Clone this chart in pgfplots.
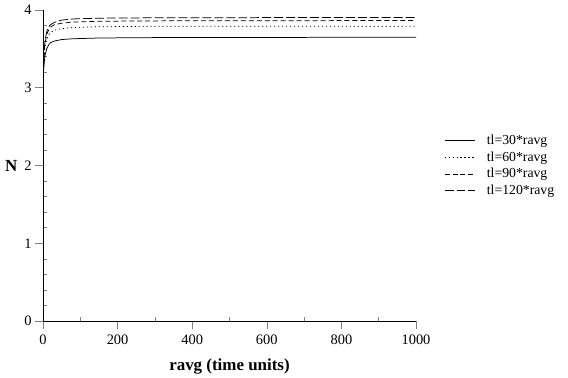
\documentclass[border=0pt]{standalone}
\usepackage{pgfplots}
\pgfplotsset{compat=1.18}
\usepackage{fontspec}
\setmainfont{Liberation Serif}
\begin{document}
\begin{tikzpicture}[x=1bp,y=1bp]
\begin{axis}[
  name=ax, at={(0,0)}, anchor=south west,
  scale only axis, width=373bp, height=311bp,
  xmin=0, xmax=1000, ymin=0, ymax=4,
  axis lines=left, axis line style={-, line width=0.6pt},
  xtick={0,200,...,1000}, ytick={0,1,2,3,4},
  minor x tick num=1, minor y tick num=4,
  tick align=outside, major tick length=8bp, minor tick length=4bp,
  tick style={line width=0.6pt},
  minor x tick style={yshift=4bp}, minor y tick style={xshift=4bp},
  /pgf/number format/assume math mode=true,
  /pgf/number format/1000 sep={},
  xticklabel style={font=\fontsize{14.5}{14.5}\selectfont, yshift=-2bp},
  yticklabel style={font=\fontsize{14.5}{14.5}\selectfont},
  xlabel={\textbf{ravg (time units)}},
  xlabel style={yshift=-8bp},
  ylabel={\textbf{N}}, ylabel style={rotate=-90, at={(axis description cs:0,0.5)}, anchor=east, xshift=-22bp},
  label style={font=\fontsize{17}{17}\selectfont},
  legend style={draw=none, fill=none, at={(1.075,0.5)}, anchor=west, inner sep=0pt, font=\fontsize{13.8}{13.8}\selectfont, row sep=1.8bp,
     /tikz/every odd column/.append style={column sep=10bp}},
  legend image code/.code={\draw[#1] (0bp,0bp) -- (30bp,0bp);},
  legend cell align=left,
  every axis plot/.append style={black, line width=0.75pt},
  clip=true,
]
\addplot[solid] coordinates {(1,3.15)(2,3.25)(4,3.36)(6,3.43)(10,3.50)(15,3.55)(20,3.58)(30,3.60)(50,3.62)(80,3.63)(150,3.64)(300,3.645)(1000,3.65)};
\addlegendentry{tl=30*ravg}
\addplot[dash pattern=on 1.2pt off 2.8pt] coordinates {(1,3.18)(2,3.32)(4,3.46)(6,3.54)(10,3.63)(15,3.68)(20,3.71)(30,3.74)(50,3.76)(80,3.775)(150,3.785)(300,3.79)(1000,3.79)};
\addlegendentry{tl=60*ravg}
\addplot[dash pattern=on 5pt off 3pt] coordinates {(1,3.18)(2,3.35)(4,3.50)(6,3.59)(10,3.69)(15,3.74)(20,3.78)(30,3.81)(50,3.83)(80,3.845)(150,3.855)(300,3.86)(1000,3.865)};
\addlegendentry{tl=90*ravg}
\addplot[dash pattern=on 9pt off 3pt] coordinates {(1,3.18)(2,3.37)(4,3.53)(6,3.62)(10,3.72)(15,3.78)(20,3.81)(30,3.84)(50,3.87)(80,3.885)(150,3.895)(300,3.90)(1000,3.905)};
\addlegendentry{tl=120*ravg}
\end{axis}
\path (-43bp,-56bp) rectangle (525bp,321bp);
\end{tikzpicture}
\end{document}
